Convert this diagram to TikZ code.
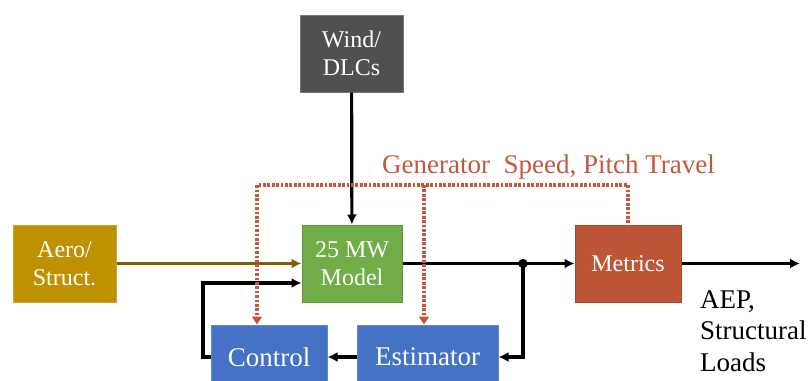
\documentclass[tikz,border=0pt]{standalone}
\usepackage{fontspec}
\setmainfont{Liberation Serif}
\usetikzlibrary{arrows.meta,positioning}
\definecolor{windgray}{HTML}{505050}
\definecolor{windedge}{HTML}{767676}
\definecolor{modelgreen}{HTML}{70AD47}
\definecolor{aerogold}{HTML}{BF9000}
\definecolor{aerodark}{HTML}{7F6000}
\definecolor{metricsred}{HTML}{BE5537}
\definecolor{ctrlblue}{HTML}{4472C4}
\definecolor{senseline}{HTML}{C4583C}
\tikzset{
  box/.style={inner sep=0pt, align=center, text=white, line width=1pt, minimum height=77pt, font=\fontsize{24}{28}\selectfont},
  bbox/.style={box, fill=ctrlblue, draw=ctrlblue!85!white, minimum height=64pt, font=\fontsize{27}{31}\selectfont},
  flow/.style={-{Latex[length=10pt,width=10pt]}, line width=3.2pt},
  sense/.style={draw=senseline, line width=3.1pt, dash pattern=on 2.7pt off 1.7pt},
  sensetip/.style={sense, -{Triangle[length=8pt,width=10pt]}},
  lbl/.style={inner sep=0pt, font=\fontsize{27}{31.5}\selectfont},
}
\begin{document}
\begin{tikzpicture}[x=1pt, y=-1pt]
\useasboundingbox (0,0) rectangle (810,380);
% blocks
\node[box, fill=windgray, draw=windedge, minimum width=103pt] (wind) at (351.5,53.5) {Wind/\\DLCs};
\node[box, fill=modelgreen, draw=modelgreen!85!black, minimum width=100pt] (model) at (352,263.5) {25 MW\\Model};
\node[box, fill=aerogold, draw=aerogold!80!white, minimum width=103pt] (aero) at (64.5,263.5) {Aero/\\Struct.};
\node[box, fill=metricsred, draw=metricsred!85!black, minimum width=106pt] (metrics) at (628,263.5) {Metrics};
\node[bbox, minimum width=116pt] (control) at (269,357) {Control};
\node[bbox, minimum width=141pt] (estimator) at (427.5,357) {Estimator};
% labels
\node[lbl, text=senseline, anchor=base] (sig) at (548.5,173) {Generator\ \ Speed, Pitch Travel};
\node[lbl, align=left, anchor=base west] (loads) at (700,371) {AEP,\\Structural\\Loads};
% junction points
\coordinate (junc) at (523,263.5);
\coordinate (fb) at (203,283);
\coordinate (out) at (800,263.5);
\coordinate (busR) at (628,185);
\coordinate (busM) at (424,185);
\coordinate (busL) at (257,185);
% connectors
\draw[flow] (wind) -- (model);
\draw[flow, draw=aerodark] (aero) -- (model);
\draw[flow] (model) -- (metrics);
\draw[flow] (metrics) -- (out);
\draw[flow] (junc) |- (estimator.east);
\draw[flow] (estimator) -- (control);
\draw[flow] (control.west) -| (fb) -- (fb -| model.west);
\fill (junc) circle (4.7pt);
% sensed signals
\draw[sensetip] ([yshift=-3pt]metrics.north) -- (busR) -- (busL) -- (busL |- control.north);
\draw[sensetip] (busM) -- (busM |- estimator.north);
\end{tikzpicture}
\end{document}
